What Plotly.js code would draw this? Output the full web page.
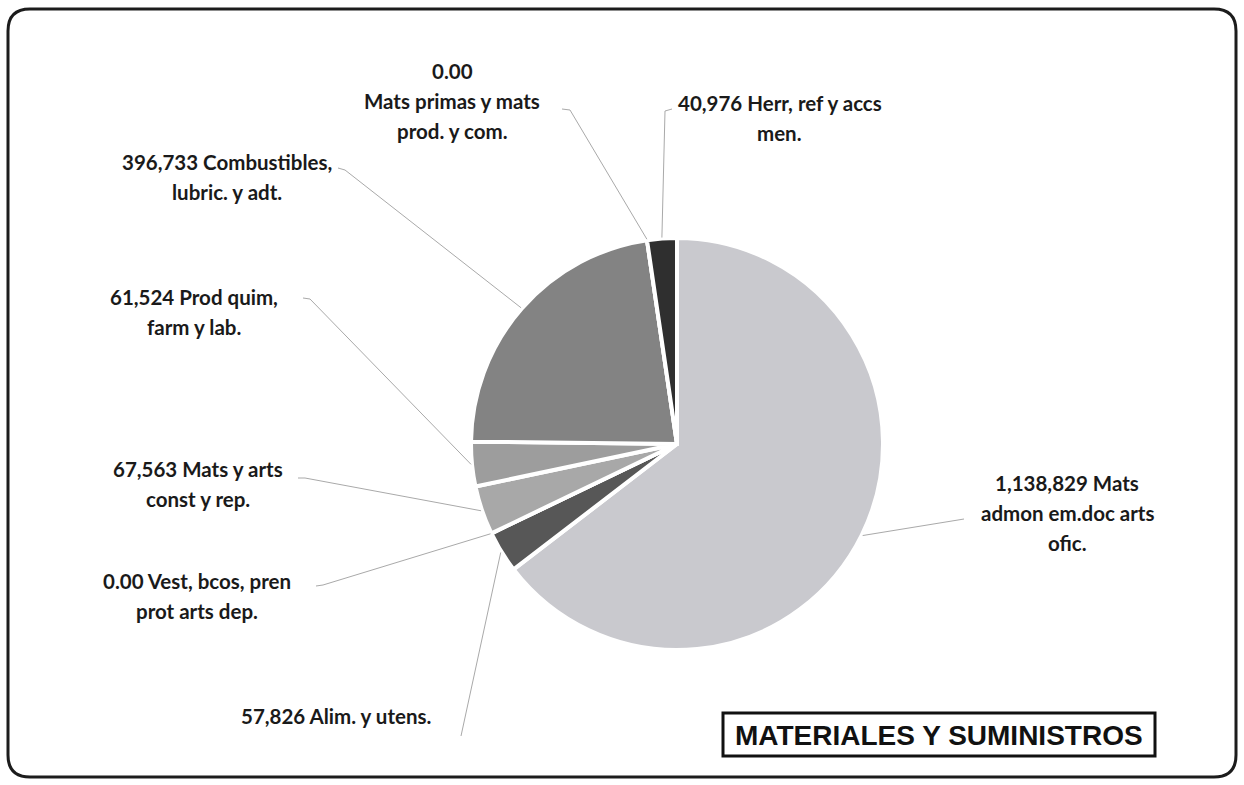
<!DOCTYPE html>
<html><head><meta charset="utf-8">
<script src="https://cdn.plot.ly/plotly-3.0.1.min.js"></script>
<style>html,body{margin:0;padding:0;background:#fff}#chart{width:1244px;height:785px}</style>
</head><body><div id="chart"></div>
<script>
// ---- data ----
const categories = [
  "Mats admon em.doc arts ofic.",
  "Alim. y utens.",
  "Vest, bcos, pren prot arts dep.",
  "Mats y arts const y rep.",
  "Prod quim, farm y lab.",
  "Combustibles, lubric. y adt.",
  "Mats primas y mats prod. y com.",
  "Herr, ref y accs men."
];
const values = [1138829, 57826, 0, 67563, 61524, 396733, 0, 40976];
const labelLines = [
  ["1,138,829 Mats", "admon em.doc arts", "ofic."],
  ["57,826 Alim. y utens."],
  ["0.00 Vest, bcos, pren", "prot arts dep."],
  ["67,563 Mats y arts", "const y rep."],
  ["61,524 Prod quim,", "farm y lab."],
  ["396,733 Combustibles,", "lubric. y adt."],
  ["0.00", "Mats primas y mats", "prod. y com."],
  ["40,976 Herr, ref y accs", "men."]
];
const chartTitle = "MATERIALES Y SUMINISTROS";

// ---- styling / layout ----
const sliceColors = ["#c9c9ce", "#575757", "#6a6a6a", "#a8a8a8", "#9d9d9d", "#838383", "#555555", "#2f2f2f"];
const W = 1244, H = 785, CX = 677, CY = 444, R = 206;
const labelPos = [[1067, 483], [336, 716], [197, 581], [198, 469], [194, 297], [227, 162], [452, 71], [780, 103]];
const leaderPts = [
  [[958, 520], [964, 519]],
  [[461, 736]],
  [[323, 585], [316, 586]],
  [[305, 478], [298, 478]],
  [[310, 299], [303, 298]],
  [[345, 170], [338, 168]],
  [[570, 110], [562, 109]],
  [[665, 111], [672, 109]]
];
const LINE_H = 30;

const px = x => x / W;
const py = y => 1 - y / H;

const total = values.reduce((a, b) => a + b, 0);
let cum = 0;
const shapes = [];
const annotations = [];
values.forEach((v, i) => {
  const mid = (cum + v / 2) / total * 2 * Math.PI;
  cum += v;
  const sx = CX + (R + 1) * Math.sin(mid), sy = CY - (R + 1) * Math.cos(mid);
  let path = `M ${px(sx)} ${py(sy)}`;
  leaderPts[i].forEach(p => { path += ` L ${px(p[0])} ${py(p[1])}`; });
  shapes.push({type: 'path', xref: 'paper', yref: 'paper', path: path,
    line: {color: '#a9a9a9', width: 1}});
  labelLines[i].forEach((t, k) => {
    annotations.push({xref: 'paper', yref: 'paper', x: px(labelPos[i][0]), y: py(labelPos[i][1] + k * LINE_H),
      xanchor: 'center', yanchor: 'middle', showarrow: false, text: t,
      font: {family: 'Lato, Open Sans, sans-serif', size: 20.5, weight: 700, color: '#1a1a1a'}});
  });
});

// outer rounded border
const L = 8, T = 9, Rt = 1236, B = 777, rr = 22;
const border = `M ${px(L + rr)} ${py(T)} L ${px(Rt - rr)} ${py(T)} Q ${px(Rt)} ${py(T)} ${px(Rt)} ${py(T + rr)} ` +
  `L ${px(Rt)} ${py(B - rr)} Q ${px(Rt)} ${py(B)} ${px(Rt - rr)} ${py(B)} L ${px(L + rr)} ${py(B)} ` +
  `Q ${px(L)} ${py(B)} ${px(L)} ${py(B - rr)} L ${px(L)} ${py(T + rr)} Q ${px(L)} ${py(T)} ${px(L + rr)} ${py(T)} Z`;
shapes.push({type: 'path', xref: 'paper', yref: 'paper', path: border, line: {color: '#1c1c1c', width: 3}});

// title box
shapes.push({type: 'rect', xref: 'paper', yref: 'paper', x0: px(723), x1: px(1155), y0: py(756), y1: py(713),
  line: {color: '#111', width: 3}, fillcolor: 'rgba(0,0,0,0)'});
annotations.push({xref: 'paper', yref: 'paper', x: px(939), y: py(735), xanchor: 'center', yanchor: 'middle',
  showarrow: false, text: chartTitle,
  font: {family: 'Liberation Sans, Arial, sans-serif', size: 28, weight: 700, color: '#111'}});

const trace = {
  type: 'pie', labels: categories, values: values, sort: false, direction: 'clockwise', rotation: 0,
  textinfo: 'none', hoverinfo: 'label+value',
  marker: {colors: sliceColors, line: {color: '#ffffff', width: 4}},
  domain: {x: [px(CX - R), px(CX + R)], y: [py(CY + R), py(CY - R)]},
  showlegend: false
};

Plotly.newPlot('chart', [trace], {
  width: W, height: H, margin: {l: 0, r: 0, t: 0, b: 0},
  paper_bgcolor: '#fff', plot_bgcolor: '#fff', showlegend: false,
  shapes: shapes, annotations: annotations
}, {displayModeBar: false, staticPlot: true});
</script>
</body></html>
